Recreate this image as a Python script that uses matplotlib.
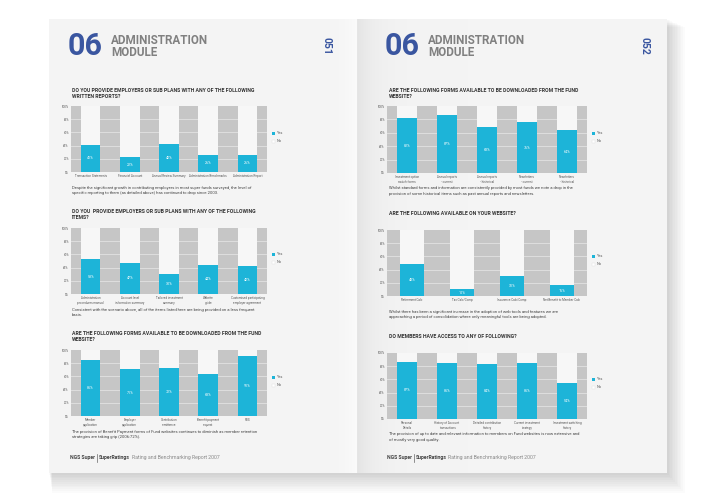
import numpy as np
import matplotlib
matplotlib.use("Agg")
import matplotlib.pyplot as plt
from matplotlib.patches import Rectangle

plt.rcParams['font.family'] = ['Roboto', 'DejaVu Sans']

# ---------------- data ----------------
l1_cats = ["Transaction Statements", "Financial Account", "Annual Review Summary",
           "Administration Benchmarks", "Administration Report"]
l1_yes = [41, 22, 42, 26, 26]

l2_cats = ["Administration\nprocedures manual", "Account level\ninformation summary",
           "Tailored investment\nsummary", "Website\nguide",
           "Customised participating\nemployer agreement"]
l2_yes = [53, 47, 30, 44, 42]

l3_cats = ["Member\napplication", "Employer\napplication", "Contribution\nremittance",
           "Benefit payment\nrequest", "PDS"]
l3_yes = [85, 71, 72, 63, 91]

r1_cats = ["Investment option\nswitch forms", "Annual reports\n- current",
           "Annual reports\n- historical", "Newsletters\n- current",
           "Newsletters\n- historical"]
r1_yes = [82, 87, 68, 76, 64]

r2_cats = ["Retirement Calc", "Tax Calc/Comp", "Insurance Calc/Comp",
           "Net Benefit to Member Calc"]
r2_yes = [48, 10, 31, 16]

r3_cats = ["Personal\nDetails", "History of Account\ntransactions",
           "Detailed contribution\nhistory", "Current investment\nstrategy",
           "Investment switching\nhistory"]
r3_yes = [87, 85, 84, 85, 54]

y_ticks = [0, 20, 40, 60, 80, 100]
y_tick_labels = ["0%", "20%", "40%", "60%", "80%", "100%"]
legend_labels = ["Yes", "No"]

q_l1 = "DO YOU PROVIDE EMPLOYERS OR SUB PLANS WITH ANY OF THE FOLLOWING\nWRITTEN REPORTS?"
q_l2 = "DO YOU  PROVIDE EMPLOYERS OR SUB PLANS WITH ANY OF THE FOLLOWING\nITEMS?"
q_l3 = "ARE THE FOLLOWING FORMS AVAILABLE TO BE DOWNLOADED FROM THE FUND\nWEBSITE?"
q_r1 = "ARE THE FOLLOWING FORMS AVAILABLE TO BE DOWNLOADED FROM THE FUND\nWEBSITE?"
q_r2 = "ARE THE FOLLOWING AVAILABLE ON YOUR WEBSITE?"
q_r3 = "DO MEMBERS HAVE ACCESS TO ANY OF FOLLOWING?"

d_l1 = ("Despite the significant growth in contributing employers in most super funds surveyed, the level of\n"
        "specific reporting to them (as detailed above) has continued to drop since 2003.")
d_l2 = ("Consistent with the scenario above, all of the items listed here are being provided on a less frequent\n"
        "basis.")
d_l3 = ("The provision of Benefit Payment forms of Fund websites continues to diminish as member retention\n"
        "strategies are taking grip (2006:72%).")
d_r1 = ("Whilst standard forms and information are consistently provided by most funds we note a drop in the\n"
        "provision of some historical items such as past annual reports and newsletters.")
d_r2 = ("Whilst there has been a significant increase in the adoption of web tools and features we are\n"
        "approaching a period of consolidation where only meaningful tools are being adopted.")
d_r3 = ("The provision of up to date and relevant information to members on Fund websites is now extensive and\n"
        "of mostly very good quality.")

footer_parts = ["NGS Super", "SuperRatings", "Rating and Benchmarking Report 2007"]

# ---------------- figure ----------------
W, H = 720, 500
fig = plt.figure(figsize=(7.2, 5.0), dpi=100)
fig.patch.set_facecolor("white")

bg = fig.add_axes([0, 0, 1, 1])
bg.set_xlim(0, W)
bg.set_ylim(H, 0)
bg.axis("off")

# shadows
for i in range(12):
    bg.add_patch(Rectangle((49 + i * 0.3, 19 + i * 0.7), 618 + i * 1.3, 454 + i * 1.1,
                           facecolor="black", alpha=0.017, lw=0, zorder=1))

# page gradients
px0, px1, sp, py0, py1 = 49, 667, 358, 19, 473
xs = np.arange(px0, px1)
col = np.zeros(len(xs))
for k, x in enumerate(xs):
    if x < sp:
        d = sp - x
        v = 0.957 + 0.03 * np.exp(-d / 14.0)
        if d < 2:
            v = 0.90
    else:
        d = x - sp
        v = 0.957 - 0.06 * np.exp(-d / 18.0)
    col[k] = v
img = np.tile(col, (2, 1))
img = np.dstack([img, img, img])
bg.imshow(img, extent=(px0, px1, py1, py0), aspect="auto", zorder=2, interpolation="bilinear")
bg.set_xlim(0, W)
bg.set_ylim(H, 0)

BLUE = "#3a56a0"
GRAYT = "#808080"
TXT = "#333333"

def header(x06, xadm, xnum, num):
    bg.text(x06, 46, "06", fontsize=22, fontweight="bold", color=BLUE,
            ha="left", va="center", zorder=5)
    bg.text(xadm, 40, "ADMINISTRATION", fontsize=8.4, fontweight="bold", color=GRAYT,
            ha="left", va="center", zorder=5)
    bg.text(xadm, 53, "MODULE", fontsize=8.4, fontweight="bold", color=GRAYT,
            ha="left", va="center", zorder=5)
    bg.text(xnum, 46, num, fontsize=7.5, fontweight="bold", color=BLUE, rotation=270,
            ha="center", va="center", zorder=5)

header(68, 111, 327, "051")
header(385, 428, 645, "052")

renderer = fig.canvas.get_renderer()

def footer(x):
    y = 458
    t1 = bg.text(x, y, footer_parts[0], fontsize=3.7, fontweight="bold", color="#444444",
                 ha="left", va="center", zorder=5)
    bb = t1.get_window_extent(renderer)
    xe = bb.x1  # pixels (dpi 100 -> same units)
    bg.plot([xe + 2, xe + 2], [454, 462], color="#666666", lw=0.5, zorder=5)
    t2 = bg.text(xe + 4, y, footer_parts[1], fontsize=3.7, fontweight="bold", color="#444444",
                 ha="left", va="center", zorder=5)
    bb2 = t2.get_window_extent(renderer)
    bg.text(bb2.x1 + 1.5, y, footer_parts[2], fontsize=3.7,
            color="#8a8a8a", ha="left", va="center", zorder=5)

footer(70)
footer(387)

CYAN = "#1db4d8"
GRID_BG = "#c6c6c6"
NO_C = "#f7f7f7"

def chart(x0, y0, x1, y1, cats, yes, question, qy, qx, desc, dy, leg_y, leg_x):
    ax = fig.add_axes([x0 / W, 1 - y1 / H, (x1 - x0) / W, (y1 - y0) / H], zorder=3)
    ax.set_facecolor(GRID_BG)
    n = len(cats)
    xpos = np.arange(n)
    no = [100 - v for v in yes]
    bw = 0.5 if n == 5 else 0.48
    ax.bar(xpos, yes, width=bw, color=CYAN, zorder=3)
    ax.bar(xpos, no, bottom=yes, width=bw, color=NO_C, zorder=3)
    for yv in y_ticks[1:-1]:
        ax.axhline(yv, color="#dedede", lw=0.7, zorder=1)
    for xi, v in zip(xpos, yes):
        ax.text(xi, v / 2, f"{v}%", ha="center", va="center", fontsize=2.6,
                color="white", zorder=4)
    ax.set_xlim(-0.5, n - 0.5)
    ax.set_ylim(0, 100)
    ax.set_yticks(y_ticks)
    ax.set_yticklabels(y_tick_labels)
    ax.set_xticks(xpos)
    ax.set_xticklabels(cats)
    ax.tick_params(axis="both", length=0, labelsize=2.2, colors="#555555", pad=1.5)
    for s in ax.spines.values():
        s.set_visible(False)
    # legend
    bg.add_patch(Rectangle((leg_x - 1.5, leg_y - 1.5), 3, 3, facecolor=CYAN, lw=0, zorder=5))
    bg.add_patch(Rectangle((leg_x - 1.5, leg_y + 6.5), 3, 3, facecolor="white",
                           edgecolor="#dddddd", lw=0.3, zorder=5))
    bg.text(leg_x + 4, leg_y, legend_labels[0], fontsize=2.8, color="#555555",
            va="center", ha="left", zorder=5)
    bg.text(leg_x + 4, leg_y + 8, legend_labels[1], fontsize=2.8, color="#555555",
            va="center", ha="left", zorder=5)
    bg.text(qx, qy, question, fontsize=3.7, fontweight="bold", color=TXT,
            ha="left", va="top", linespacing=1.3, zorder=5)
    bg.text(qx, dy, desc, fontsize=3.0, color="#444444",
            ha="left", va="top", linespacing=1.4, zorder=5)
    return ax

chart(71, 106, 267, 172, l1_cats, l1_yes, q_l1, 88, 72, d_l1, 185.5, 133, 273)
chart(71, 228, 267, 294, l2_cats, l2_yes, q_l2, 209, 72, d_l2, 307.5, 254, 273)
chart(71, 350, 267, 416, l3_cats, l3_yes, q_l3, 331, 72, d_l3, 429.5, 377, 273)
chart(387, 106, 587, 173, r1_cats, r1_yes, q_r1, 88, 389, d_r1, 186.5, 133, 593)
chart(387, 230, 587, 296, r2_cats, r2_yes, q_r2, 211, 389, d_r2, 309.5, 256, 593)
chart(387, 353, 587, 419, r3_cats, r3_yes, q_r3, 334, 389, d_r3, 432.5, 379, 593)

fig.savefig("out.png", dpi=100, facecolor="white")
